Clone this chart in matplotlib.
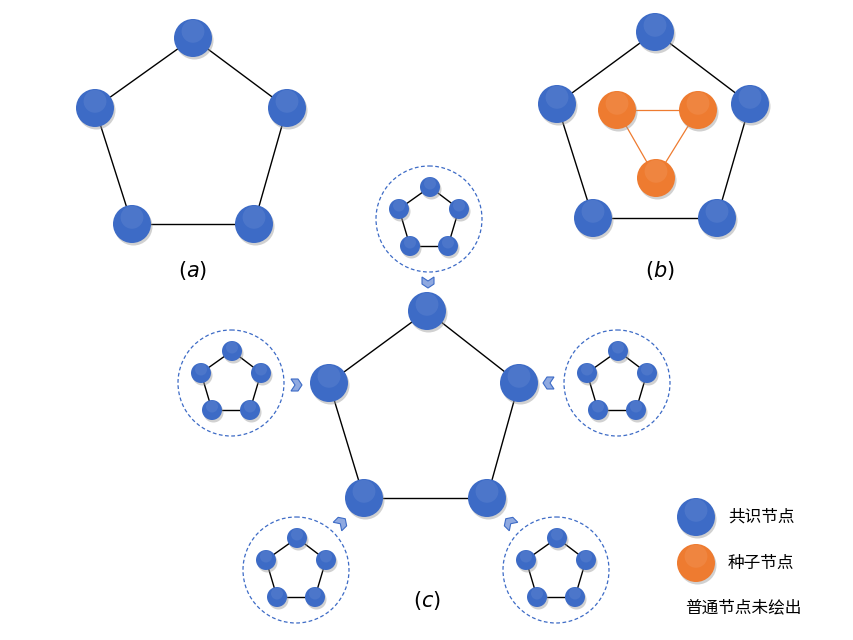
import numpy as np
import matplotlib.pyplot as plt
from matplotlib.patches import Circle, Polygon

plt.rcParams['font.family'] = ['Noto Sans CJK SC', 'DejaVu Sans']

BLUE = '#3d6bc6'
ORANGE = '#ee7b30'

# node positions (pixel coords)
nodes_a = [(193, 38), (95, 108), (287, 108), (132, 224), (254, 224)]
nodes_b = [(655, 32), (557, 104), (750, 104), (593, 218), (717, 218)]
seeds_b = [(617, 110), (698, 110), (656, 178)]
nodes_c = [(427, 311), (329, 383), (519, 383), (364, 498), (487, 498)]
clusters = [(429, 219), (231, 383), (617, 383), (296, 570), (556, 570)]
# small pentagon offsets relative to cluster centre
small_off = [(1, -32), (-30, -10), (30, -10), (-19, 27), (19, 27)]
arrows = [(428, 282, -90), (296, 385, 0), (549, 383, 180), (341, 523, 45), (510, 523, 135)]
pent_edges = [(0, 1), (0, 2), (1, 3), (2, 4), (3, 4)]


def node(ax, x, y, r, color):
    ax.add_patch(Circle((x + 1.5, y + 2.5), r, color='#999999', alpha=0.45, lw=0, zorder=3))
    ax.add_patch(Circle((x, y), r, color=color, lw=0, zorder=4))
    ax.add_patch(Circle((x, y - r * 0.35), r * 0.6, color='white', alpha=0.08, lw=0, zorder=5))


def pentagon(ax, pts, r, color=BLUE, lw=1.0):
    for i, j in pent_edges:
        ax.plot([pts[i][0], pts[j][0]], [pts[i][1], pts[j][1]], color='black', lw=lw, zorder=2)
    for x, y in pts:
        node(ax, x, y, r, color)


fig = plt.figure(figsize=(8.54, 6.4), dpi=100)
ax = fig.add_axes([0, 0, 1, 1])
ax.set_xlim(0, 854)
ax.set_ylim(640, 0)
ax.set_aspect('equal')
ax.axis('off')

pentagon(ax, nodes_a, 19)
pentagon(ax, nodes_b, 19)
for i, j in [(0, 1), (0, 2), (1, 2)]:
    ax.plot([seeds_b[i][0], seeds_b[j][0]], [seeds_b[i][1], seeds_b[j][1]], color=ORANGE, lw=0.9, zorder=2)
for x, y in seeds_b:
    node(ax, x, y, 19, ORANGE)
pentagon(ax, nodes_c, 19)

for cx, cy in clusters:
    ax.add_patch(Circle((cx, cy), 53, fill=False, ec=BLUE, ls=(0, (3, 2)), lw=0.9, zorder=1))
    pts = [(cx + dx, cy + dy) for dx, dy in small_off]
    pentagon(ax, pts, 10)

chev = np.array([[-5, -6], [2, -6], [6, 0], [2, 6], [-5, 6], [-1, 0]])
for x, y, ang in arrows:
    t = np.deg2rad(ang)
    rot = np.array([[np.cos(t), -np.sin(t)], [np.sin(t), np.cos(t)]])
    p = chev @ rot.T
    p[:, 1] = -p[:, 1]
    ax.add_patch(Polygon(p + [x, y], closed=True, fc='#8fa9e0', ec=BLUE, lw=0.8, zorder=3))

ax.text(193, 270, r'$(a)$', fontsize=15, ha='center', va='center')
ax.text(660, 270, r'$(b)$', fontsize=15, ha='center', va='center')
ax.text(427, 600, r'$(c)$', fontsize=15, ha='center', va='center')

node(ax, 696, 517, 19, BLUE)
node(ax, 696, 563, 19, ORANGE)
ax.text(728, 517, '共识节点', fontsize=12, va='center')
ax.text(728, 563, '种子节点', fontsize=12, va='center')
ax.text(743, 608, '普通节点未绘出', fontsize=12, ha='center', va='center')

fig.savefig('out.png', dpi=100)
